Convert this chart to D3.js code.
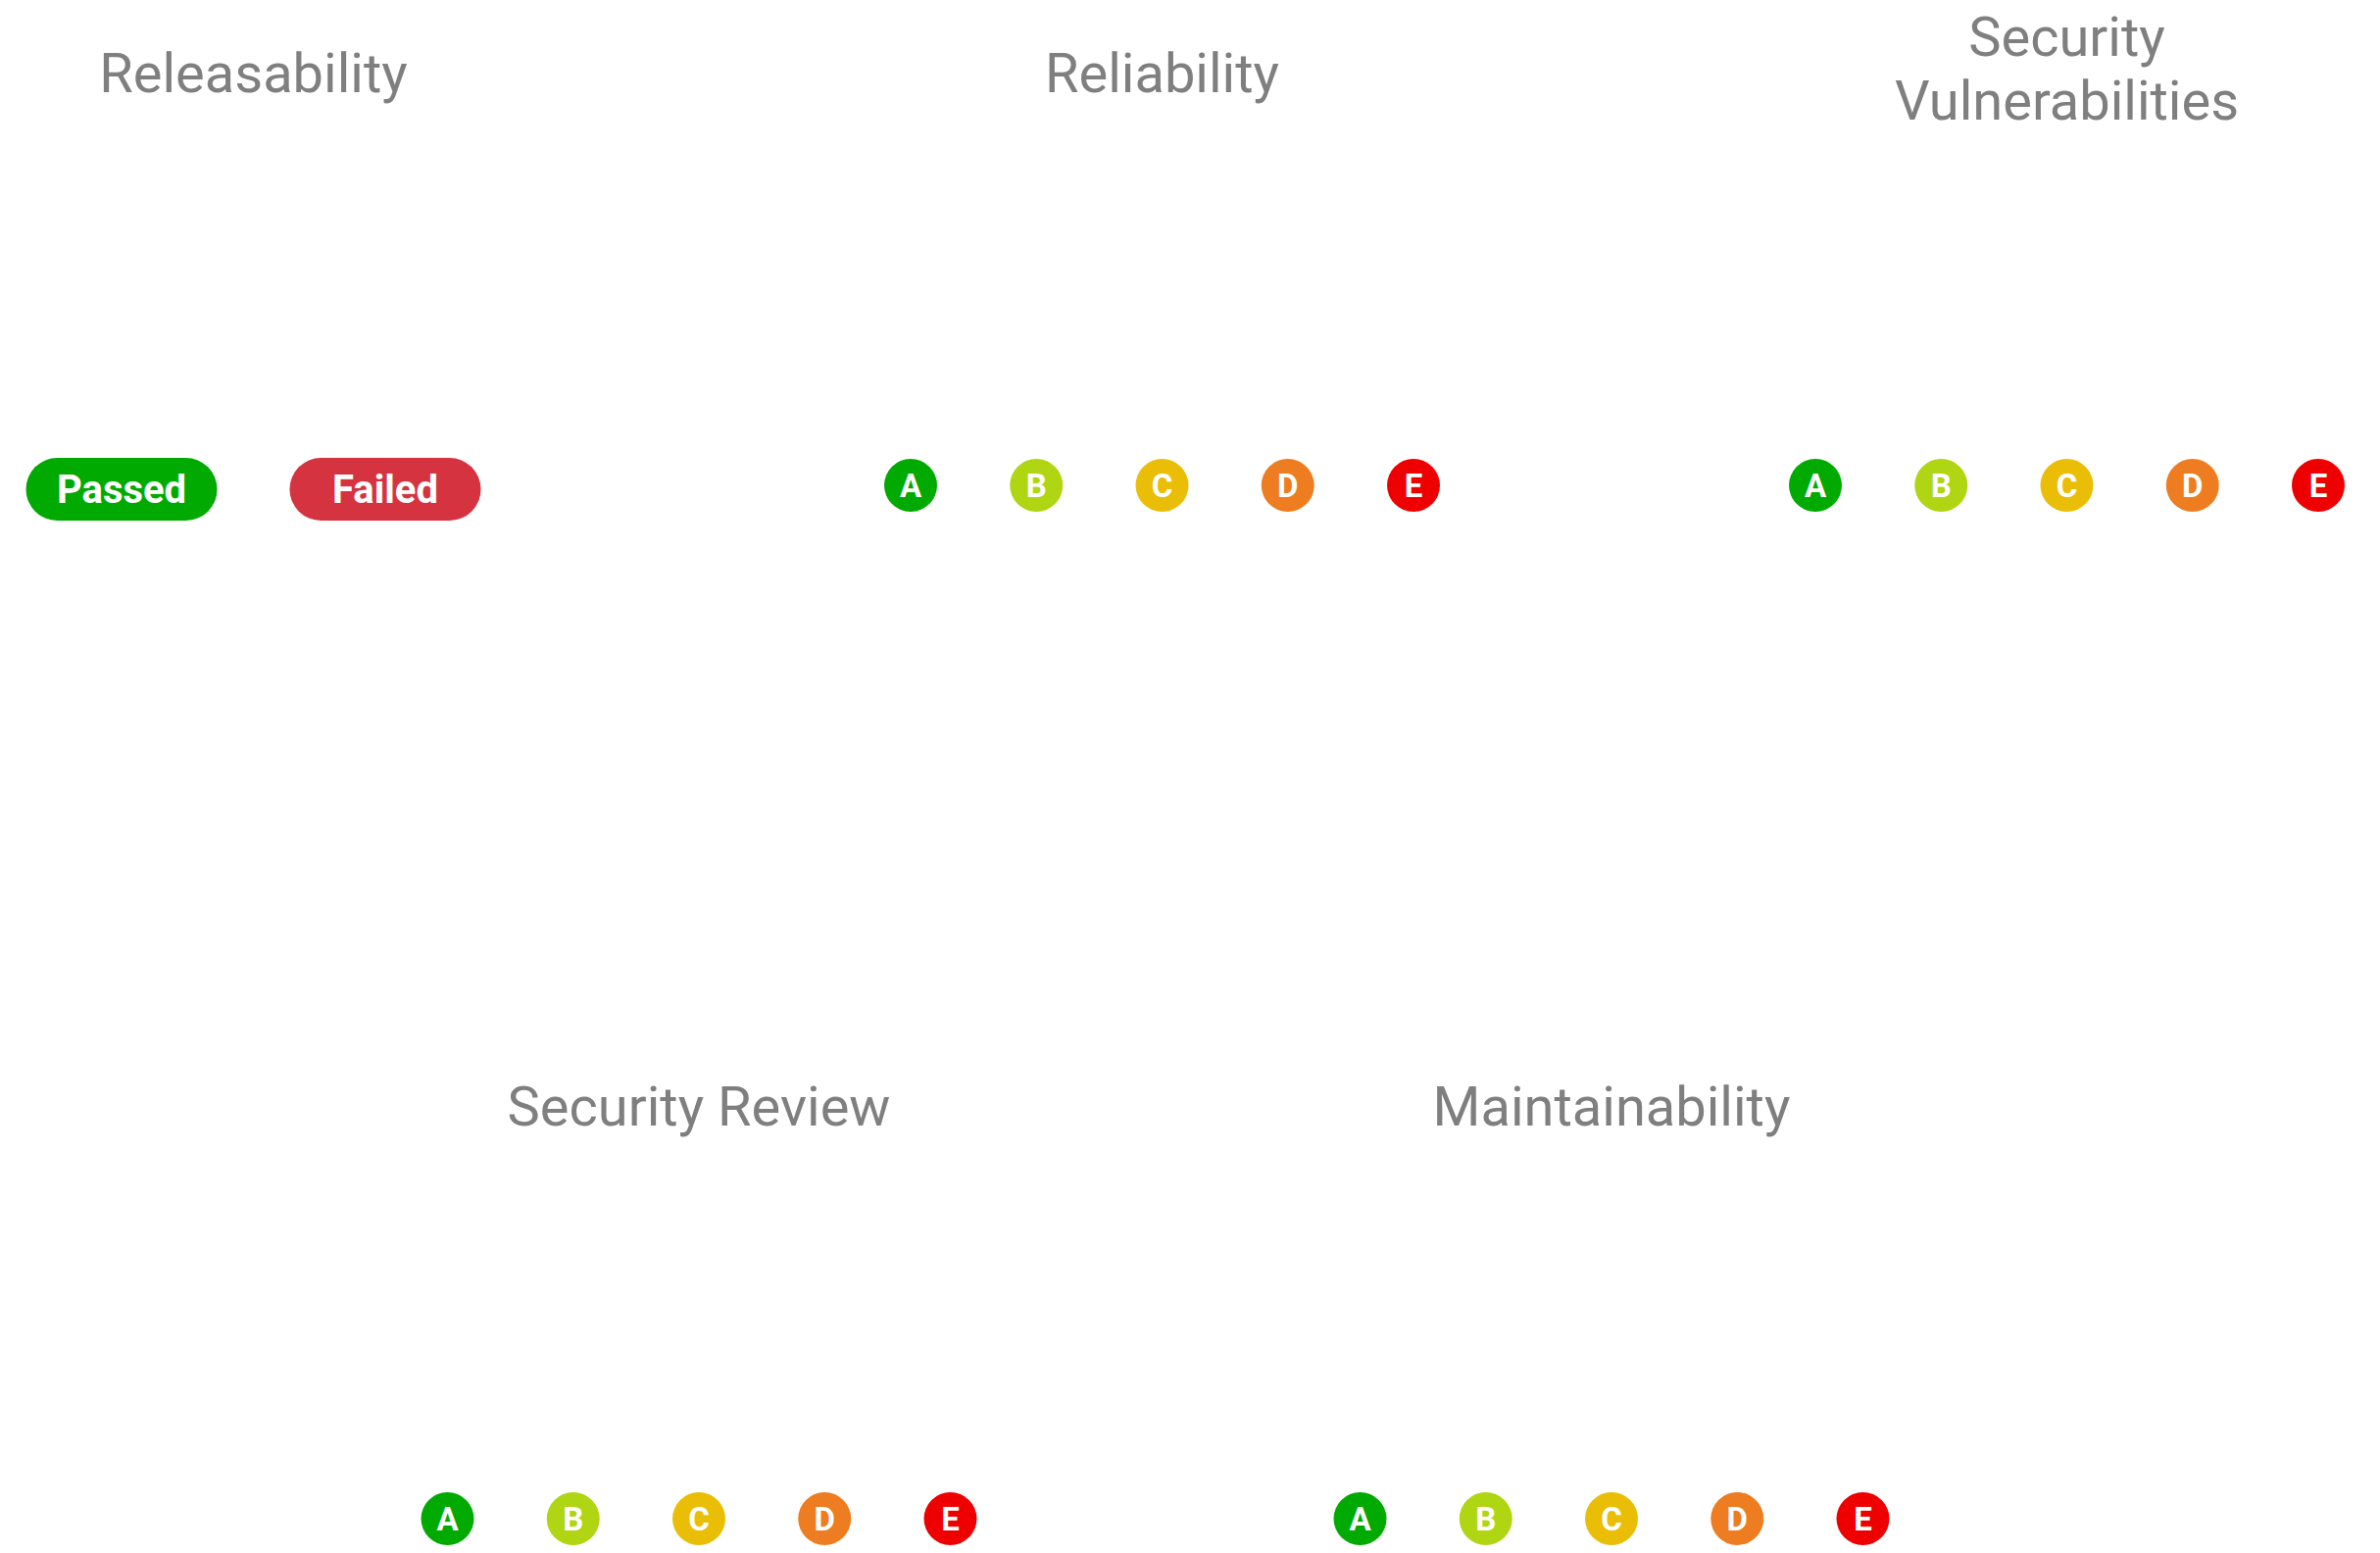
<!DOCTYPE html>
<html>
<head>
<meta charset="utf-8">
<script src="https://cdn.jsdelivr.net/npm/d3@7"></script>
<style>
  html, body { margin: 0; padding: 0; background: #fff; }
  svg { display: block; font-family: Roboto, "Open Sans", sans-serif; }
</style>
</head>
<body>
<div id="chart"></div>
<script>
// quality-gate / rating legend panels
const topTitles = ["Releasability", "Reliability", "Security Vulnerabilities"];
const bottomTitles = ["Security Review", "Maintainability"];
const grades = ["A", "B", "C", "D", "E"];
const gradeColors = ["#00aa00", "#b0d513", "#eabe06", "#ed7d20", "#ee0000"];
const gateStatus = ["Passed", "Failed"];
const gateColors = ["#00aa00", "#d4333f"];

var width = 2428;
var height = 1584;
const titleColor = "#7f7f7f";

const svg = d3
  .select("#chart")
  .append("svg")
  .attr("width", width)
  .attr("height", height);

// panel centres
var xTop = d3.scaleOrdinal().domain(topTitles).range([258.5, 1185.5, 2108.5]);
var xBottom = d3.scalePoint().domain(bottomTitles).range([713, 1644]);

// positions inside a panel, relative to its centre
var gradeX = d3.scalePoint().domain(grades).range([-256.5, 256.5]);
var gateX = d3.scalePoint().domain(gateStatus).range([-134.5, 134.5]);
var gradeColor = d3.scaleOrdinal().domain(grades).range(gradeColors);
var gateColor = d3.scaleOrdinal().domain(gateStatus).range(gateColors);

const panels = topTitles
  .map(t => ({ title: t, cx: xTop(t), top: 0 }))
  .concat(bottomTitles.map(t => ({ title: t, cx: xBottom(t), top: 1054 })));

var panel = svg
  .selectAll(".panel")
  .data(panels)
  .enter()
  .append("g")
  .classed("panel", true)
  .attr("transform", d => `translate(${d.cx}, ${d.top})`);

// titles, wrapped to the panel width
panel.each(function(d) {
  var g = d3.select(this);
  var text = g
    .append("text")
    .attr("text-anchor", "middle")
    .attr("font-size", 56)
    .attr("fill", titleColor);
  var words = d.title.split(" ");
  var lines = [];
  var line = [];
  var probe = text.append("tspan");
  words.forEach(w => {
    line.push(w);
    probe.text(line.join(" "));
    if (probe.node().getComputedTextLength() > 520 && line.length > 1) {
      line.pop();
      lines.push(line.join(" "));
      line = [w];
    }
  });
  lines.push(line.join(" "));
  probe.remove();
  var lh = 65;
  var first = lines.length > 1 ? 89.5 - ((lines.length - 1) * lh) / 2 : 94;
  text
    .selectAll("tspan")
    .data(lines)
    .enter()
    .append("tspan")
    .attr("x", 0)
    .attr("y", (l, i) => first + i * lh)
    .text(l => l);
});

// releasability: pass / fail pills
var gate = panel
  .filter(d => d.title === "Releasability")
  .selectAll(".gate")
  .data(gateStatus)
  .enter()
  .append("g")
  .classed("gate", true)
  .attr("transform", s => `translate(${gateX(s)}, 499)`);

gate
  .append("rect")
  .attr("x", -97.5)
  .attr("y", -32)
  .attr("width", 195)
  .attr("height", 64)
  .attr("rx", 32)
  .attr("fill", s => gateColor(s));

gate
  .append("text")
  .attr("text-anchor", "middle")
  .attr("y", 14)
  .attr("font-size", 40)
  .attr("font-weight", "bold")
  .attr("fill", "#fff")
  .text(s => s);

// ratings A..E
var badge = panel
  .filter(d => d.title !== "Releasability")
  .selectAll(".grade")
  .data(grades)
  .enter()
  .append("g")
  .classed("grade", true)
  .attr("transform", gr => `translate(${gradeX(gr)}, 495)`);

badge
  .append("circle")
  .attr("r", 27)
  .attr("fill", gr => gradeColor(gr));

badge
  .append("text")
  .attr("text-anchor", "middle")
  .attr("y", 11.5)
  .attr("font-size", 33)
  .attr("font-weight", "bold")
  .attr("fill", "#fff")
  .text(gr => gr);
</script>
</body>
</html>
